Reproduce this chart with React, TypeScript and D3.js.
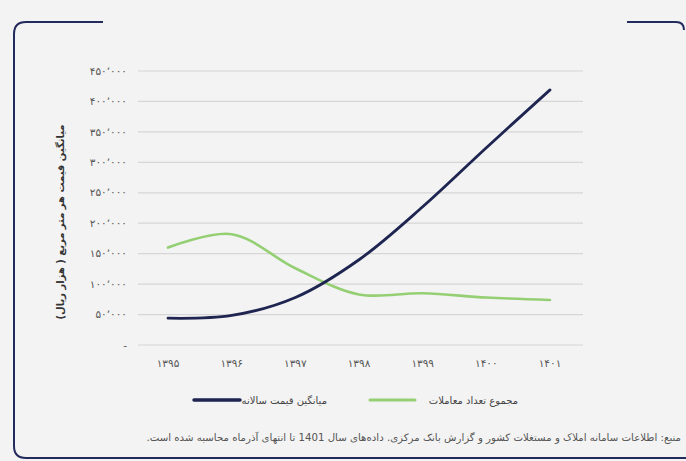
import React from "react";
import * as d3 from "d3";

const years = ["۱۳۹۵", "۱۳۹۶", "۱۳۹۷", "۱۳۹۸", "۱۳۹۹", "۱۴۰۰", "۱۴۰۱"];
const avgPrice = [44000, 48500, 78000, 140000, 227000, 324000, 419000];
const totalDeals = [160000, 182000, 126000, 83000, 85000, 78000, 74000];
const yTicks = [0, 50000, 100000, 150000, 200000, 250000, 300000, 350000, 400000, 450000];
const yTickLabels = ["-", "۵۰٬۰۰۰", "۱۰۰٬۰۰۰", "۱۵۰٬۰۰۰", "۲۰۰٬۰۰۰", "۲۵۰٬۰۰۰", "۳۰۰٬۰۰۰", "۳۵۰٬۰۰۰", "۴۰۰٬۰۰۰", "۴۵۰٬۰۰۰"];
const seriesNames = ["میانگین قیمت سالانه", "مجموع تعداد معاملات"];
const yTitle = "میانگین قیمت هر متر مربع ( هزار ریال)";
const sourceText = "منبع: اطلاعات سامانه املاک و مستغلات کشور و گزارش بانک مرکزی. داده‌های سال 1401 تا انتهای آذرماه محاسبه شده است.";

const W = 686, H = 461;
const DARK = "#1e2550";
const GREEN = "#95cf74";
const FONT = "'DejaVu Sans', 'Noto Sans', sans-serif";

export default function App() {
  const x = d3.scalePoint<string>().domain(years).range([168, 550]);
  const y = d3.scaleLinear().domain([0, 450000]).range([345, 71]);
  const line = d3
    .line<number>()
    .x((_, i) => x(years[i]) as number)
    .y((d) => y(d))
    .curve(d3.curveCatmullRom.alpha(0.5));

  const frameTL = `M103,22 L26,22 Q14,22 14,34 L14,446 Q14,458 26,458 L686,458`;
  const frameTR = `M627,22 L676,22 Q684,22 684,30`;

  return (
    <svg width={W} height={H} style={{ position: "absolute", left: 0, top: 0, background: "#f3f3f3" }}>
      <rect x={0} y={0} width={W} height={H} fill="#f3f3f3" />
      <path d={frameTL} fill="none" stroke="#232a5c" strokeWidth={2} />
      <path d={frameTR} fill="none" stroke="#232a5c" strokeWidth={2} />

      {yTicks.map((t, i) => (
        <g key={t}>
          <line x1={138} x2={583} y1={y(t)} y2={y(t)} stroke="#d6d6d6" strokeWidth={1.2} />
          <text
            x={127}
            y={y(t)}
            dy="0.35em"
            textAnchor="end"
            fontSize={10.5}
            fill="#555"
            fontFamily={FONT}
          >
            {yTickLabels[i]}
          </text>
        </g>
      ))}

      {years.map((yr) => (
        <text
          key={yr}
          x={x(yr)}
          y={367}
          textAnchor="middle"
          fontSize={10.5}
          fill="#555"
          fontFamily={FONT}
        >
          {yr}
        </text>
      ))}

      <text
        transform={`translate(64,222) rotate(-90)`}
        textAnchor="middle"
        fontSize={10}
        fontWeight="bold"
        fill="#333"
        fontFamily={FONT}
        direction="rtl"
      >
        {yTitle}
      </text>

      <path d={line(totalDeals) || ""} fill="none" stroke={GREEN} strokeWidth={2.6} strokeLinecap="round" />
      <path d={line(avgPrice) || ""} fill="none" stroke={DARK} strokeWidth={2.8} strokeLinecap="round" />

      <line x1={194} x2={240} y1={400} y2={400} stroke={DARK} strokeWidth={3.5} strokeLinecap="round" />
      <text x={327} y={400} dy="0.35em" textAnchor="start" fontSize={10} fill="#444" fontFamily={FONT} direction="rtl">
        {seriesNames[0]}
      </text>
      <line x1={370} x2={415} y1={400} y2={400} stroke={GREEN} strokeWidth={3} strokeLinecap="round" />
      <text x={518} y={400} dy="0.35em" textAnchor="start" fontSize={10} fill="#444" fontFamily={FONT} direction="rtl">
        {seriesNames[1]}
      </text>

      <text x={681} y={437} dy="0.35em" textAnchor="start" fontSize={10.2} fill="#555" fontFamily={FONT} direction="rtl">
        {sourceText}
      </text>
    </svg>
  );
}
